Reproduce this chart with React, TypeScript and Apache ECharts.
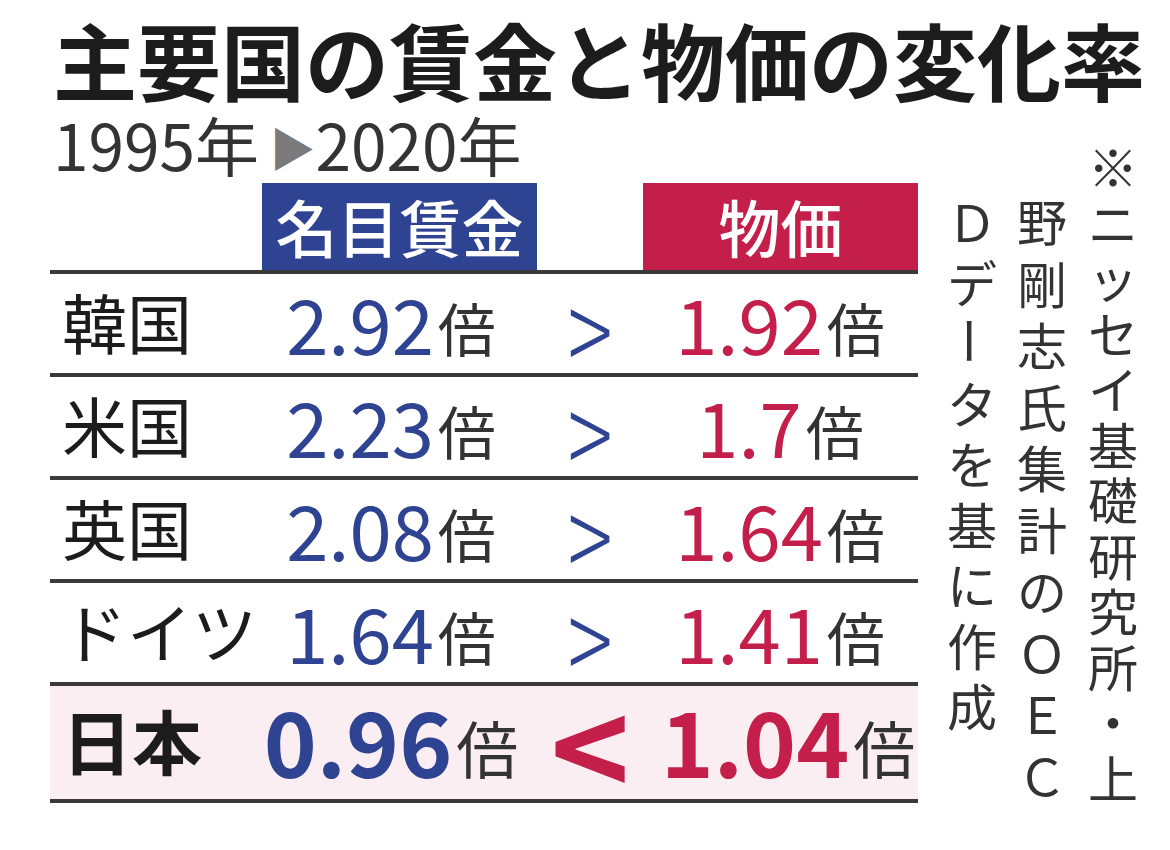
import React, { useEffect, useRef } from "react";
import * as echarts from "echarts";

// ---- content ----
const TITLE = "主要国の賃金と物価の変化率";
const PERIOD_FROM = "1995年";
const PERIOD_TO = "2020年";
const HEADERS = ["名目賃金", "物価"];
const countries = ["韓国", "米国", "英国", "ドイツ", "日本"];
const wageRatios = [2.92, 2.23, 2.08, 1.64, 0.96];
const priceRatios = [1.92, 1.7, 1.64, 1.41, 1.04];
const UNIT = "倍";
const noteColumns = ["※ニッセイ基礎研究所・上", "野剛志氏集計のＯＥＣ", "Ｄデータを基に作成"];

const FONT = '"Noto Sans CJK JP", "Noto Sans", sans-serif';
const BLUE = "#2e4392";
const RED = "#c41f4b";
const INK = "#1c1c1c";
const GRAY = "#333333";

function buildGraphic() {
  const els: any[] = [];
  const tableLeft = 50;
  const tableRight = 918;
  const headerTop = 183;
  const headerBottom = 272;
  const wageX = 391;
  const symX = 590;
  const priceX = 780;

  // title
  els.push({
    type: "text",
    x: 53,
    y: 58,
    style: {
      text: TITLE,
      fontFamily: FONT,
      fontSize: 84,
      lineHeight: 84,
      fontWeight: "bold",
      fill: INK,
      align: "left",
      verticalAlign: "middle",
    },
  });
  // subtitle
  els.push({
    type: "text",
    x: 53,
    y: 143,
    style: {
      text: `{y|${PERIOD_FROM}}{a| ▶}{y|${PERIOD_TO}}`,
      align: "left",
      verticalAlign: "middle",
      rich: {
        y: { fontFamily: FONT, fontSize: 64, fill: GRAY, lineHeight: 64, verticalAlign: "bottom" },
        a: { fontFamily: FONT, fontSize: 46, fill: "#7a7a7a", lineHeight: 64, verticalAlign: "bottom", padding: [0, 0, 6, 0] },
      },
    },
  });

  // header boxes
  const headerDefs = [
    { text: HEADERS[0], x: 262, color: BLUE },
    { text: HEADERS[1], x: 643, color: RED },
  ];
  headerDefs.forEach((h) => {
    els.push({
      type: "rect",
      shape: { x: h.x, y: headerTop, width: 275, height: headerBottom - headerTop },
      style: { fill: h.color },
    });
    els.push({
      type: "text",
      x: h.x + 137.5,
      y: (headerTop + headerBottom) / 2 - 2,
      style: {
        text: h.text,
        fontFamily: FONT,
        fontSize: 62,
        fontWeight: 500,
        fill: "#ffffff",
        align: "center",
        verticalAlign: "middle",
      },
    });
  });

  // rows
  const lineYs: number[] = [headerBottom];
  let top = headerBottom;
  countries.forEach((country, i) => {
    const wage = wageRatios[i];
    const price = priceRatios[i];
    const hi = wage < price;
    const h = hi ? 117 : 103;
    const cy = top + h / 2;
    if (hi) {
      els.push({
        type: "rect",
        shape: { x: tableLeft, y: top, width: tableRight - tableLeft, height: h },
        style: { fill: "#fbeef2" },
      });
    }
    els.push({
      type: "text",
      x: 62,
      y: cy - 3,
      style: {
        text: country,
        fontFamily: FONT,
        fontSize: hi ? 70 : 65,
        fontWeight: hi ? "bold" : "normal",
        fill: INK,
        align: "left",
        verticalAlign: "middle",
      },
    });
    const valueRich = (color: string) => ({
      n: {
        fontFamily: FONT,
        fontSize: hi ? 90 : 76,
        fontWeight: hi ? "bold" : "normal",
        fill: color,
        lineHeight: 100,
        verticalAlign: "bottom",
      },
      u: {
        fontFamily: FONT,
        fontSize: hi ? 62 : 58,
        fill: GRAY,
        lineHeight: 100,
        verticalAlign: "bottom",
        padding: [0, 0, hi ? 6 : 4, 4],
      },
    });
    const vy = hi ? cy - 9 : cy - 14;
    els.push({
      type: "text",
      x: wageX,
      y: vy,
      style: {
        text: `{n|${String(wage)}}{u|${UNIT}}`,
        align: "center",
        verticalAlign: "middle",
        rich: valueRich(BLUE),
      },
    });
    els.push({
      type: "text",
      x: symX,
      y: hi ? cy - 2 : cy + 2,
      scaleX: hi ? 1.5 : 1.1,
      scaleY: hi ? 1.5 : 1.5,
      style: {
        text: hi ? "<" : ">",
        fontFamily: FONT,
        fontSize: hi ? 90 : 76,
        fontWeight: hi ? "bold" : 300,
        fill: hi ? RED : BLUE,
        align: "center",
        verticalAlign: "middle",
      },
    });
    els.push({
      type: "text",
      x: hi ? priceX + 8 : priceX,
      y: vy,
      style: {
        text: `{n|${String(price)}}{u|${UNIT}}`,
        align: "center",
        verticalAlign: "middle",
        rich: valueRich(RED),
      },
    });
    top += h;
    lineYs.push(top);
  });

  lineYs.forEach((y) => {
    els.push({
      type: "line",
      shape: { x1: tableLeft, y1: y, x2: tableRight, y2: y },
      style: { stroke: "#3a3a3a", lineWidth: 4 },
    });
  });

  // vertical source note (columns read right to left, characters stacked)
  const colXs = [1113, 1042, 972];
  const colStarts = [165, 220, 220];
  const colSteps = [55.5, 61.5, 60.5];
  noteColumns.forEach((col, ci) => {
    const chars = Array.from(col);
    const step = colSteps[ci];
    let segStart = 0;
    const flush = (end: number) => {
      if (end <= segStart) return;
      els.push({
        type: "text",
        x: colXs[ci],
        y: colStarts[ci] + segStart * step - step / 2,
        style: {
          text: chars.slice(segStart, end).join("\n"),
          fontFamily: FONT,
          fontSize: 50,
          lineHeight: step,
          fill: GRAY,
          align: "center",
          verticalAlign: "top",
        },
      });
    };
    chars.forEach((ch, k) => {
      if (ch === "ー") {
        flush(k);
        els.push({
          type: "text",
          x: colXs[ci],
          y: colStarts[ci] + k * step,
          rotation: -Math.PI / 2,
          style: {
            text: ch,
            fontFamily: FONT,
            fontSize: 50,
            lineHeight: 50,
            fill: GRAY,
            align: "center",
            verticalAlign: "middle",
          },
        });
        segStart = k + 1;
      }
    });
    flush(chars.length);
  });

  return els;
}

export default function App() {
  const ref = useRef<HTMLDivElement>(null);
  useEffect(() => {
    document.body.style.margin = "0";
    if (!ref.current) return;
    const chart = echarts.init(ref.current, null, { renderer: "svg" });
    chart.setOption({
      animation: false,
      backgroundColor: "#ffffff",
      graphic: { elements: buildGraphic() },
    });
    return () => chart.dispose();
  }, []);
  return <div ref={ref} style={{ width: 1170, height: 850 }} />;
}
